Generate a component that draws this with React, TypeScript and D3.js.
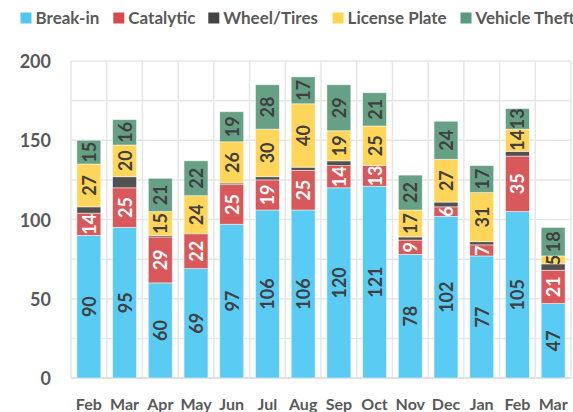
import React from "react";
import * as d3 from "d3";

const months = ["Feb", "Mar", "Apr", "May", "Jun", "Jul", "Aug", "Sep", "Oct", "Nov", "Dec", "Jan", "Feb", "Mar"];
const breakIn = [90, 95, 60, 69, 97, 106, 106, 120, 121, 78, 102, 77, 105, 47];
const catalytic = [14, 25, 29, 22, 25, 19, 25, 14, 13, 9, 6, 7, 35, 21];
const wheelTires = [4, 7, 1, 0, 1, 2, 2, 3, 0, 2, 3, 2, 3, 4];
const licensePlate = [27, 20, 15, 24, 26, 30, 40, 19, 25, 17, 27, 31, 14, 5];
const vehicleTheft = [15, 16, 21, 22, 19, 28, 17, 29, 21, 22, 24, 17, 13, 18];
const seriesNames = ["Break-in", "Catalytic", "Wheel/Tires", "License Plate", "Vehicle Theft"];
const yTicks = [0, 50, 100, 150, 200];

const colors = ["#4EC7F2", "#D64B4C", "#444444", "#FFD34E", "#5B9A7C"];
const labelColors = ["#404040", "#FFFFFF", null, "#404040", "#404040"];
const FONT = "Lato, 'Open Sans', sans-serif";

export default function App() {
  const W = 573, H = 412;
  const left = 71, right = 571, top = 61, bottom = 378;
  const series = [breakIn, catalytic, wheelTires, licensePlate, vehicleTheft];
  const x = d3.scaleBand<number>().domain(d3.range(months.length)).range([left, right]).paddingInner(0.33).paddingOuter(0.165);
  const y = d3.scaleLinear().domain([0, 200]).range([bottom, top]);
  const table = months.map((m, i) => {
    const o: any = { i };
    seriesNames.forEach((s, k) => (o[s] = series[k][i]));
    return o;
  });
  const stacked = d3.stack<any>().keys(seriesNames)(table);
  const gridVals = d3.range(0, 201, 25);
  const step = x.step();
  const legendX = [20.5, 113.3, 208.3, 332.6, 460.5];

  return (
    <svg width={W} height={H} style={{ position: "absolute", left: 0, top: 0, background: "#fff" }} fontFamily={FONT}>
      {gridVals.map((v) => (
        <line key={"h" + v} x1={left} x2={right} y1={y(v)} y2={y(v)} stroke={v === 0 ? "#d4d4d4" : "#e6e6e6"} strokeWidth={1.5} />
      ))}
      {d3.range(months.length + 1).map((k) => (
        <line key={"v" + k} x1={left + k * step} x2={left + k * step} y1={top} y2={bottom} stroke="#e6e6e6" strokeWidth={1.5} />
      ))}
      {stacked.map((s, k) => (
        <g key={s.key}>
          {s.map((d, i) =>
            d[1] - d[0] > 0 ? (
              <rect key={i} x={x(i)} width={x.bandwidth()} y={y(d[1])} height={y(d[0]) - y(d[1])} fill={colors[k]} fillOpacity={0.93} stroke="#fff" strokeOpacity={0.6} strokeWidth={0.8} />
            ) : null
          )}
        </g>
      ))}
      {stacked.map((s, k) =>
        labelColors[k]
          ? s.map((d, i) => {
              const cx = (x(i) as number) + x.bandwidth() / 2;
              const cy = (y(d[0]) + y(d[1])) / 2;
              return (
                <text key={s.key + i} transform={`translate(${cx},${cy}) rotate(-90)`} textAnchor="middle" dominantBaseline="central" fontSize={18} fontWeight="bold" fill={labelColors[k] as string}>
                  {d[1] - d[0]}
                </text>
              );
            })
          : null
      )}
      {yTicks.map((t) => (
        <text key={t} x={51} y={y(t)} textAnchor="end" dominantBaseline="central" fontSize={18} fontWeight="bold" fill="#595959">
          {t}
        </text>
      ))}
      {months.map((m, i) => (
        <text key={i} x={(x(i) as number) + x.bandwidth() / 2} y={410} textAnchor="middle" fontSize={16} fontWeight="bold" fill="#595959">
          {m}
        </text>
      ))}
      {seriesNames.map((n, k) => (
        <g key={n}>
          <rect x={legendX[k]} y={12.5} width={11} height={11} fill={colors[k]} />
          <text x={legendX[k] + 15} y={23.5} fontSize={17} fontWeight="bold" fill="#595959">
            {n}
          </text>
        </g>
      ))}
    </svg>
  );
}
